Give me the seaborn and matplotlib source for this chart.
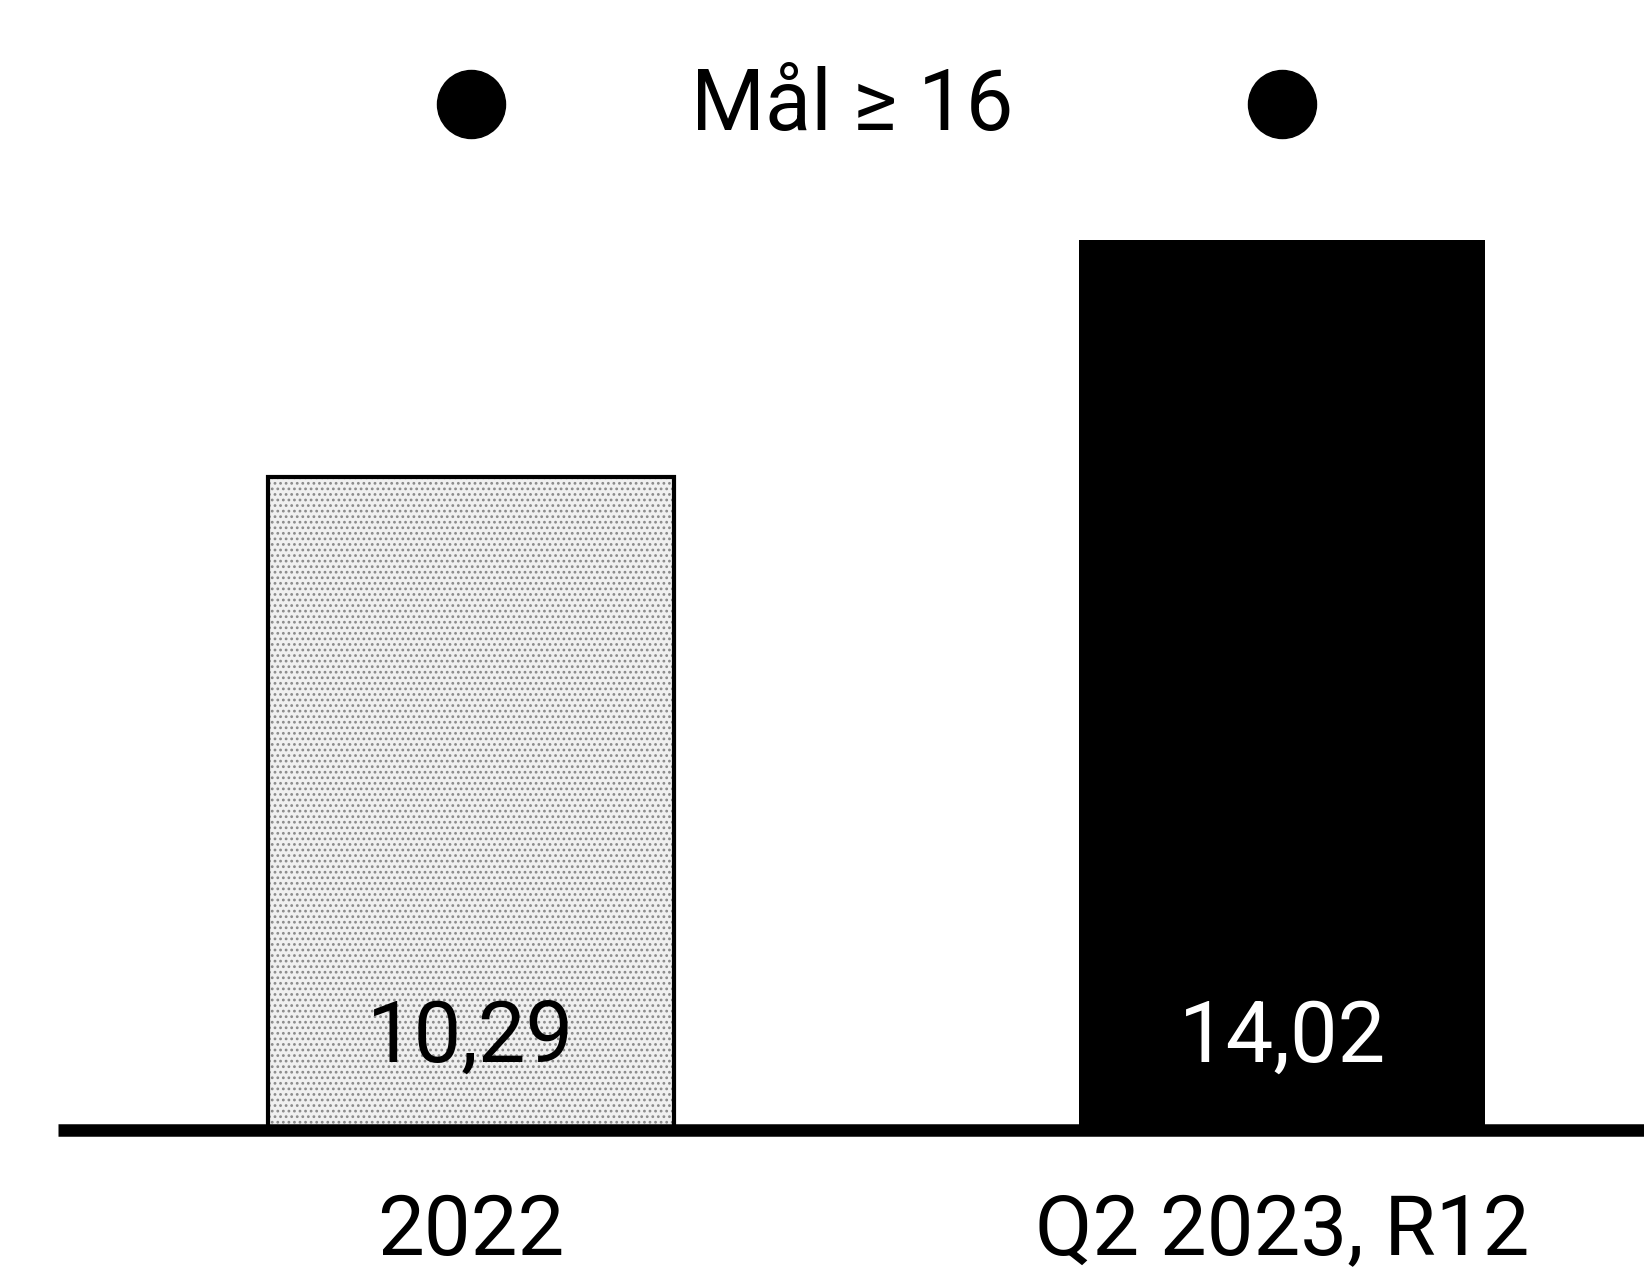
import matplotlib
matplotlib.use("Agg")
import matplotlib.pyplot as plt
from matplotlib.patches import Rectangle
from matplotlib.transforms import ScaledTranslation
import seaborn as sns
import pandas as pd

categories = ["2022", "Q2 2023, R12"]
values = [10.29, 14.02]
value_labels = ["10,29", "14,02"]
target = 16
target_label = "Mål ≥ 16"

sns.set_theme(style="white")
plt.rcParams["font.family"] = ["Roboto", "DejaVu Sans"]
plt.rcParams["hatch.linewidth"] = 1.2

df = pd.DataFrame({"cat": categories, "val": values})

fig = plt.figure(figsize=(16.44, 12.73), dpi=100)
ax = fig.add_axes([58 / 1644, 143 / 1273, 1 - 58 / 1644, 1130 / 1273])

sns.barplot(data=df, x="cat", y="val", ax=ax, width=0.5,
            color="black", saturation=1, errorbar=None, zorder=2)

p0, p1 = ax.patches[0], ax.patches[1]
p0.set_facecolor("#f0f0f0")
p0.set_hatch("...")
p0.set_edgecolor("#8a8a8a")
p0.set_linewidth(0)
outline = Rectangle((p0.get_x(), p0.get_y()), p0.get_width(), p0.get_height(),
                    fill=False, edgecolor="black", linewidth=3, zorder=3)
ax.add_patch(outline)
p1.set_facecolor("black")
p1.set_edgecolor("black")
p1.set_linewidth(0)

# value labels
for i, (lab, col) in enumerate(zip(value_labels, ["black", "white"])):
    ax.text(i, 1.07, lab, ha="center", va="baseline", fontsize=61, color=col, zorder=5)

# target dots and label (lifted slightly, as in the source)
lift = ax.transData + ScaledTranslation(0, 10 / 100, fig.dpi_scale_trans)
ax.scatter([0, 1], [target, target], s=2400, color="black", zorder=5,
           clip_on=False, transform=lift)
lift_t = ax.transData + ScaledTranslation(0, 8 / 100, fig.dpi_scale_trans)
ax.text(0.47, target, target_label, ha="center", va="center", fontsize=61,
        color="black", transform=lift_t)

# baseline
ax.axhline(0, color="black", linewidth=9, zorder=4, clip_on=False,
           solid_capstyle="butt")

ax.set_xlim(-0.509, 1.446)
ax.set_ylim(0, 17.8)
ax.set_xlabel("")
ax.set_ylabel("")
ax.set_yticks([])
ax.tick_params(axis="x", length=0, pad=45, labelsize=60, labelcolor="black")
for s in ax.spines.values():
    s.set_visible(False)

fig.savefig("out.png", dpi=100, facecolor="white")
